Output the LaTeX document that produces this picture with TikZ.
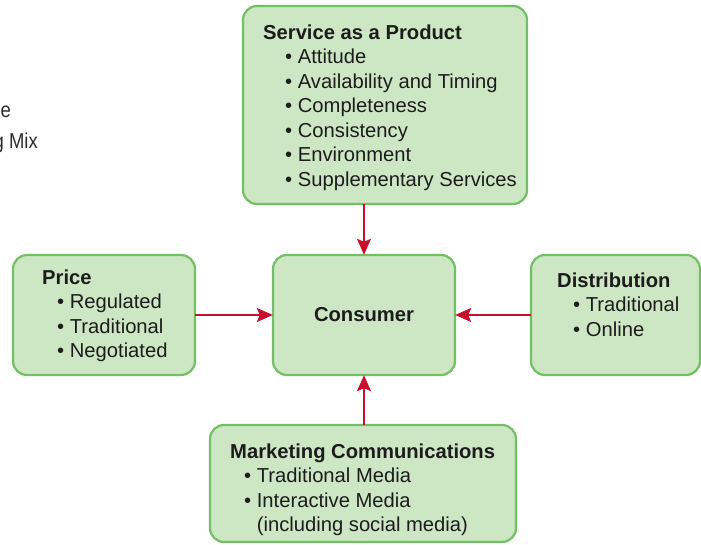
\documentclass[tikz,border=0pt]{standalone}
\usepackage{fontspec}
\setmainfont{Liberation Sans}
\usetikzlibrary{arrows.meta}
\definecolor{boxfill}{HTML}{CDE7C5}
\definecolor{boxline}{HTML}{72C063}
\definecolor{arrowred}{HTML}{C8102E}
\definecolor{inktext}{HTML}{1C1C1C}
\definecolor{captiongray}{HTML}{2C2C2C}
\begin{document}
\begin{tikzpicture}[x=1pt,y=-1pt,
  mixbox/.style={draw=boxline,fill=boxfill,line width=2.2pt,rounded corners=14pt},
  % multi-line text: anchored at the baseline of its last line
  boxtext/.style={anchor=base west,inner sep=0pt,text=inktext,
    font=\fontsize{20.2}{24.5}\selectfont,align=left},
  flow/.style={draw=arrowred,line width=1.8pt,
    -{Stealth[length=16pt,width=14pt,inset=3pt]}},
  caption/.style={anchor=base east,inner sep=0pt,text=captiongray,
    font=\fontsize{21.5}{31}\selectfont,xscale=0.86}]
\useasboundingbox (0,0) rectangle (701,544);
\begin{scope}
\clip (0,0) rectangle (701,544);

% caption running off the left edge
\node[caption] (capa) at (11,117) {e};
\node[caption] (capb) at (38,148) {g Mix};

% boxes
\path[mixbox] (243,6) rectangle (527,204);
\node[inner sep=0pt,minimum width=284pt,minimum height=198pt] (prod) at (385,105) {};
\path[mixbox] (273,255) rectangle (455,375);
\node[inner sep=0pt,minimum width=182pt,minimum height=120pt] (cons) at (364,315) {};
\path[mixbox] (13,255) rectangle (195,375);
\node[inner sep=0pt,minimum width=182pt,minimum height=120pt] (price) at (104,315) {};
\path[mixbox] (531,255) rectangle (700,375);
\node[inner sep=0pt,minimum width=169pt,minimum height=120pt] (dist) at (615.5,315) {};
\path[mixbox] (210,425) rectangle (516,542);
\node[inner sep=0pt,minimum width=306pt,minimum height=117pt] (mkt) at (363,483.5) {};

% texts
\node[boxtext] (prodtxt) at (263,186) {\textbf{Service as a Product}\\
  \hspace{22pt}• Attitude\\
  \hspace{22pt}• Availability and Timing\\
  \hspace{22pt}• Completeness\\
  \hspace{22pt}• Consistency\\
  \hspace{22pt}• Environment\\
  \hspace{22pt}• Supplementary Services};
\node[boxtext] (pricetxt) at (42,357.5) {\textbf{Price}\\
  \hspace{15pt}• Regulated\\
  \hspace{15pt}• Traditional\\
  \hspace{15pt}• Negotiated};
\node[boxtext] (disttxt) at (557,336) {\textbf{Distribution}\\
  \hspace{16pt}• Traditional\\
  \hspace{16pt}• Online};
\node[boxtext] (mkttxt) at (230,531.5) {\textbf{Marketing Communications}\\
  \hspace{14pt}• Traditional Media\\
  \hspace{14pt}• Interactive Media\\
  \hspace{14pt}\hphantom{• }(including social media)};
\node[inner sep=0pt,text=inktext,font=\fontsize{20.2}{24.5}\selectfont\bfseries]
  (constxt) at (364,315) {Consumer};

% connectors
\draw[flow] (prod.south -| cons) -- (cons.north);
\draw[flow] (price.east) -- (cons.west);
\draw[flow] (dist.west) -- (cons.east);
\draw[flow] (mkt.north -| cons) -- (cons.south);
\end{scope}
\end{tikzpicture}
\end{document}
